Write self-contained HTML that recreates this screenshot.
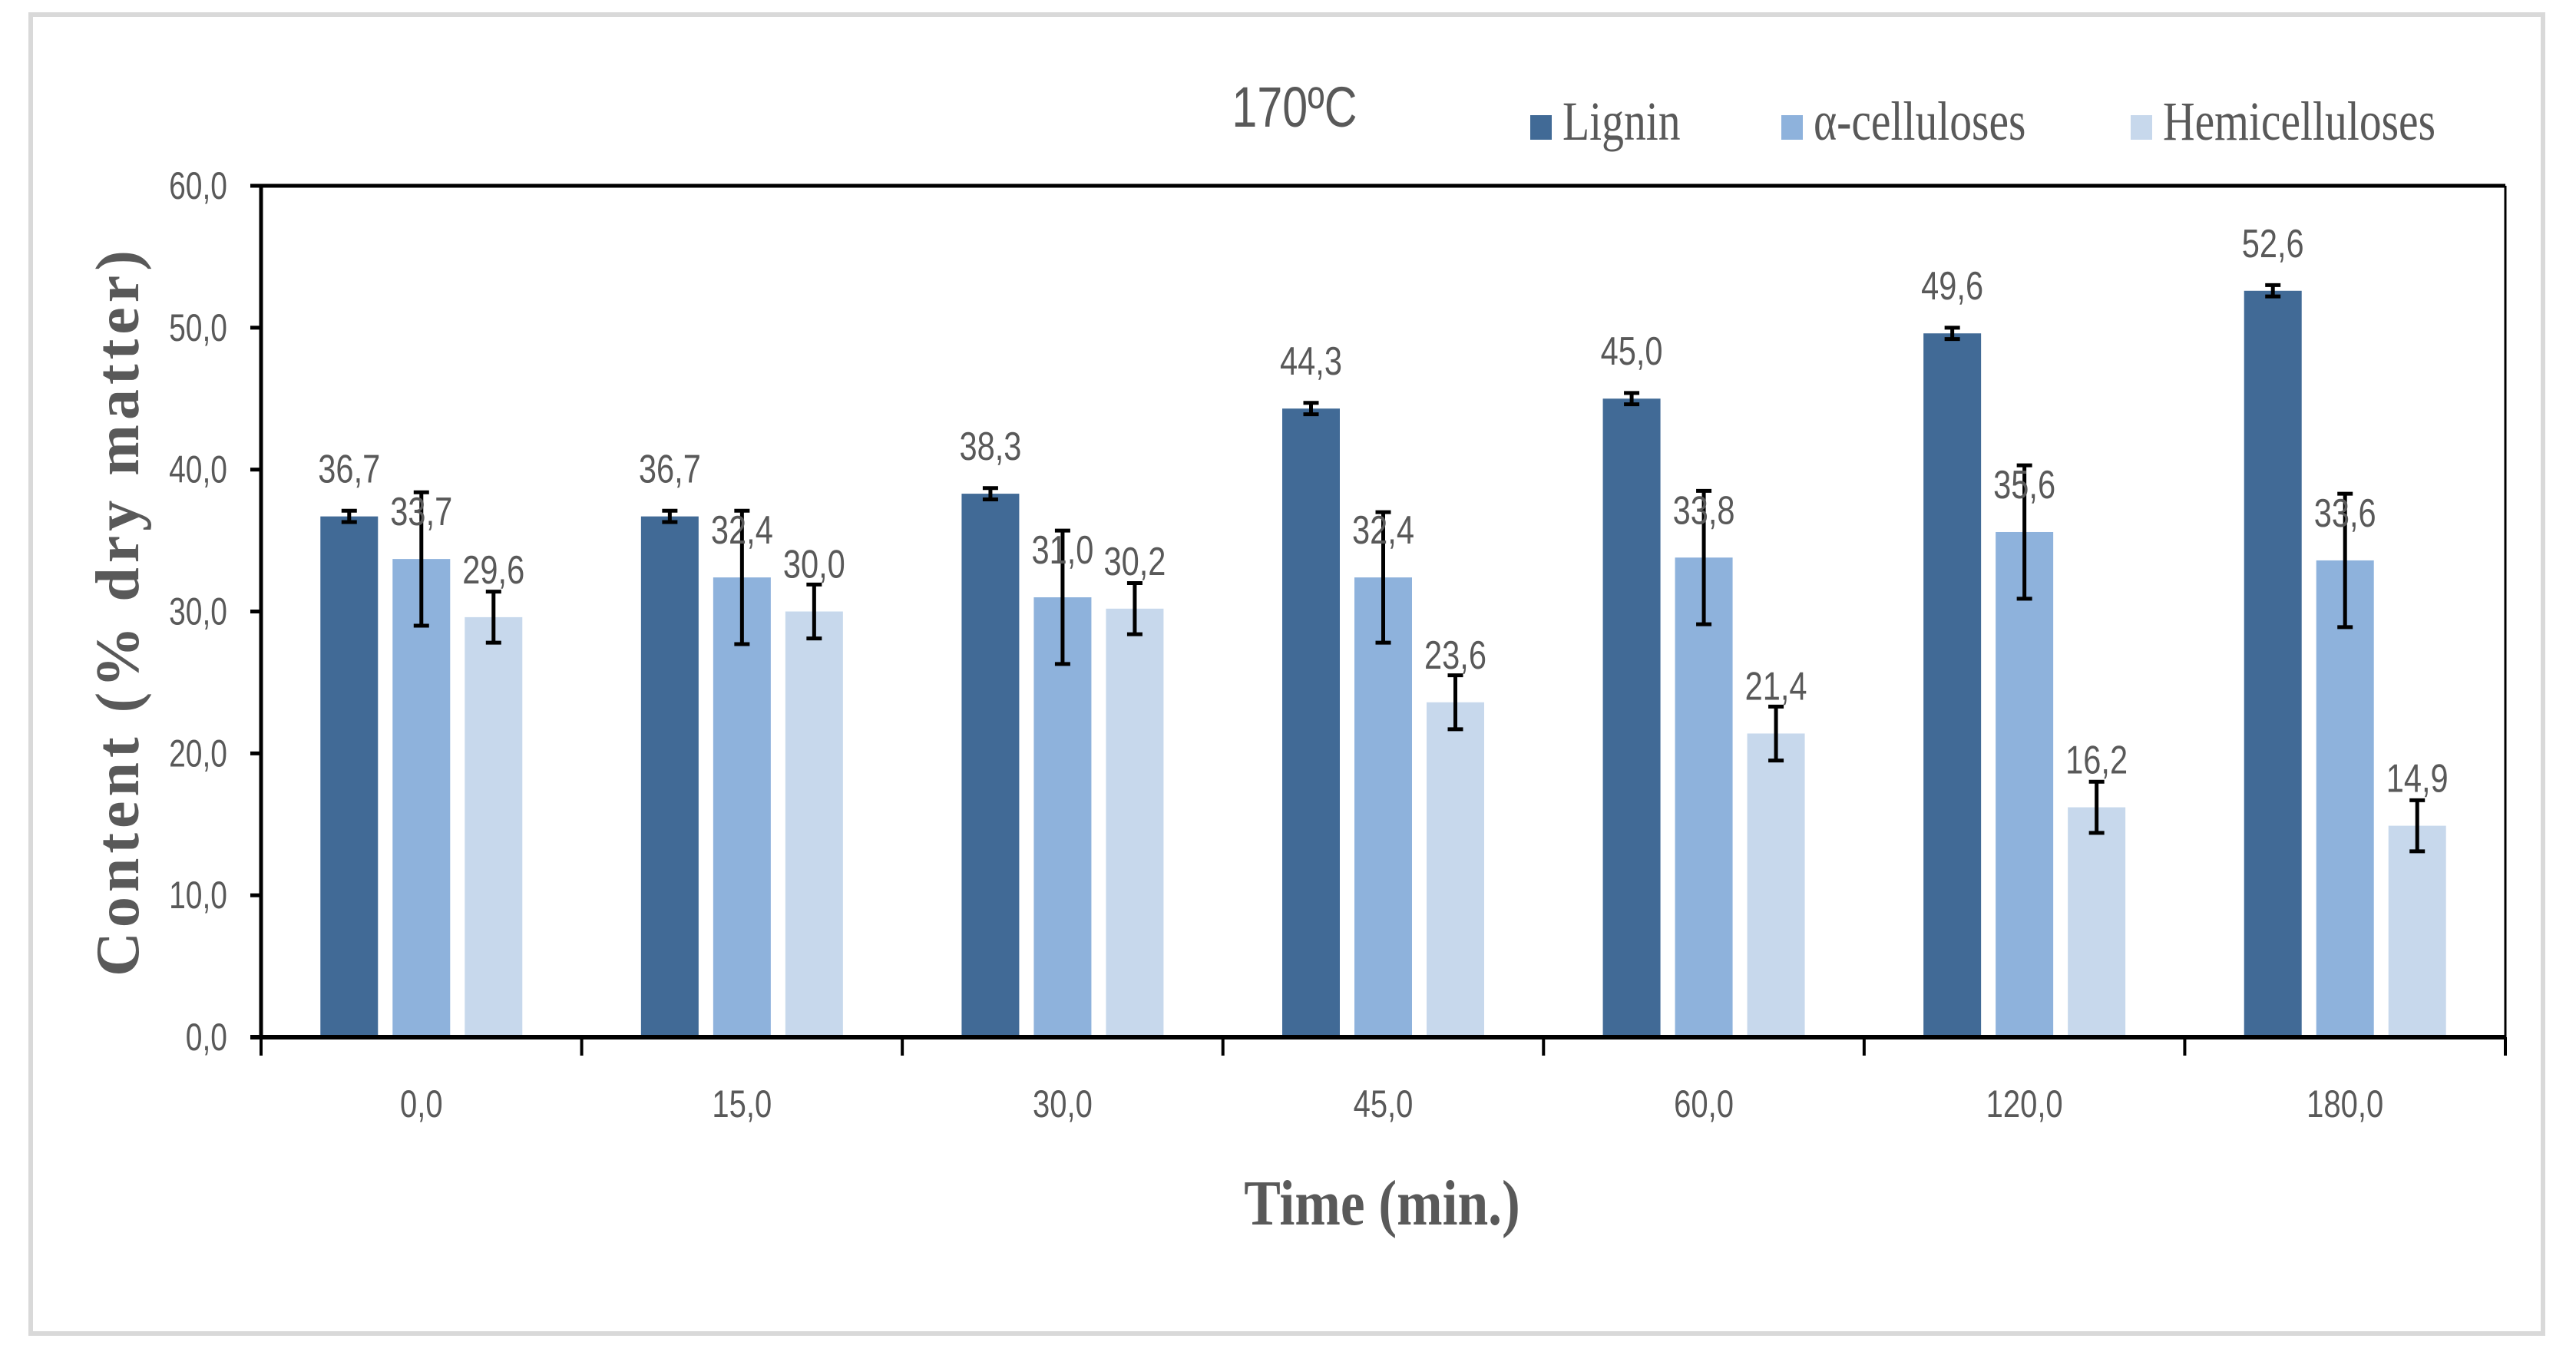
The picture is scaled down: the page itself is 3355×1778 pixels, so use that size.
<!DOCTYPE html>
<html><head><meta charset="utf-8"><style>
body{margin:0;background:#fff;}
svg{display:block;}
text{font-family:"Liberation Sans",sans-serif;fill:#595959;}
</style></head><body>
<svg id="chart" width="3355" height="1778" xmlns="http://www.w3.org/2000/svg">
<rect x="40" y="19" width="3272" height="1718" fill="#fff" stroke="#d9d9d9" stroke-width="6"/>
<text x="1686" y="165" font-size="74" text-anchor="middle" transform="translate(1686 0) scale(0.8 1) translate(-1686 0)">170ºC</text>
<g id="legend"></g>
<g id="plot"></g>
<text x="1800" y="1595" font-size="84" text-anchor="middle" style="font-family:'Liberation Serif',serif" font-weight="bold" transform="translate(1800 0) scale(0.85 1) translate(-1800 0)">Time (min.)</text>
<text x="0" y="0" font-size="80" text-anchor="middle" font-weight="bold" style="font-family:'Liberation Serif',serif;letter-spacing:6px" transform="translate(180 796) rotate(-90)">Content (% dry matter)</text>
</svg>
<script>
const categories=["0,0","15,0","30,0","45,0","60,0","120,0","180,0"];
const lignin=[36.7,36.7,38.3,44.3,45.0,49.6,52.6];
const alpha=[33.7,32.4,31.0,32.4,33.8,35.6,33.6];
const hemi=[29.6,30.0,30.2,23.6,21.4,16.2,14.9];
const ligninErr=[0.4,0.4,0.4,0.4,0.4,0.4,0.4];
const alphaErr=[4.7,4.7,4.7,4.6,4.7,4.7,4.7];
const hemiErr=[1.8,1.9,1.8,1.9,1.9,1.8,1.8];
const yTicks=[0,10,20,30,40,50,60];
const seriesNames=["Lignin","α-celluloses","Hemicelluloses"];
const colors=["#416a96","#8eb2dc","#c7d8ec"];

const NS="http://www.w3.org/2000/svg";
const X0=340,X1=3263,Y0=1351,Y1=242;
const yScale=v=>Y0-(v/60)*(Y0-Y1);
const bandW=(X1-X0)/categories.length;
const xCenter=i=>X0+bandW*(i+0.5);
const plot=document.getElementById('plot');
function mk(tag,attrs,parent){const e=document.createElementNS(NS,tag);for(const k in attrs)e.setAttribute(k,attrs[k]);(parent||plot).appendChild(e);return e;}

const series=[[lignin,ligninErr],[alpha,alphaErr],[hemi,hemiErr]];
const barW=75,step=94;
categories.forEach((c,i)=>{
  series.forEach((s,j)=>{
    const v=s[0][i],err=s[1][i];
    const cx=xCenter(i)+(j-1)*step;
    const r=mk('rect',{x:cx-barW/2,y:yScale(v),width:barW,height:Y0-yScale(v),fill:colors[j]});
    
    
    const g=mk('g',{stroke:'#000','stroke-width':5});
    
    
    const yt=yScale(v+err),yb=yScale(v-err);
    mk('line',{x1:cx,x2:cx,y1:yt,y2:yb},g);
    mk('line',{x1:cx-10,x2:cx+10,y1:yt,y2:yt},g);
    mk('line',{x1:cx-10,x2:cx+10,y1:yb,y2:yb},g);
    const t=mk('text',{x:cx,y:yScale(v)-44,'font-size':52,'text-anchor':'middle',transform:`translate(${cx} 0) scale(0.8 1) translate(${-cx} 0)`});
    t.textContent=v.toFixed(1).replace('.',',');
    
    
  });
  const lx=xCenter(i);
  const t=mk('text',{x:lx,y:1455,'font-size':50,'text-anchor':'middle',transform:`translate(${lx} 0) scale(0.8 1) translate(${-lx} 0)`});
  t.textContent=c;
  
  
});
const fr=mk('g',{stroke:'#000',fill:'none'});


mk('line',{x1:X0,x2:X1,y1:Y1,y2:Y1,'stroke-width':5},fr);
mk('line',{x1:X1,x2:X1,y1:Y1,y2:Y0,'stroke-width':3},fr);
mk('line',{x1:X0,x2:X0,y1:Y1,y2:Y0,'stroke-width':5},fr);
mk('line',{x1:X0-14,x2:X1,y1:Y0,y2:Y0,'stroke-width':6},fr);
for(let i=0;i<=categories.length;i++){const x=X0+bandW*i;mk('line',{x1:x,x2:x,y1:Y0,y2:Y0+24,'stroke-width':4},fr);}
yTicks.forEach(v=>{
  const y=yScale(v);
  mk('line',{x1:X0-14,x2:X0,y1:y,y2:y,'stroke-width':5},fr);
  const t=mk('text',{x:296,y:y+17,'font-size':50,'text-anchor':'end',transform:`translate(296 0) scale(0.78 1) translate(-296 0)`});
  t.textContent=v.toFixed(1).replace('.',',');
  
  
});
const leg=document.getElementById('legend');
const lxs=[1993,2320,2775];
seriesNames.forEach((n,j)=>{
  mk('rect',{x:lxs[j],y:150,width:28,height:32,fill:colors[j]},leg);
  const tx=lxs[j]+42;
  const t=mk('text',{x:tx,y:182,'font-size':72,style:"font-family:'Liberation Serif',serif",transform:`translate(${tx} 0) scale(0.8 1) translate(${-tx} 0)`},leg);
  t.textContent=n;
  
  
});
</script>
</body></html>
